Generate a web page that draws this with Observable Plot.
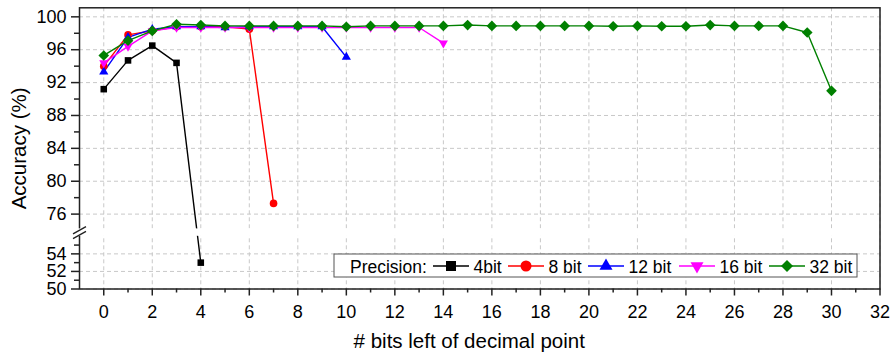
<!DOCTYPE html>
<html><head><meta charset="utf-8">
<script src="https://cdn.jsdelivr.net/npm/d3@7"></script>
<script src="https://cdn.jsdelivr.net/npm/@observablehq/plot@0.6"></script>
<style>html,body{margin:0;padding:0;background:#fff;} #chart{width:894px;height:354px;}</style>
</head><body><div id="chart"></div>
<script>
// ---- data ----
const seriesNames = ["4bit", "8 bit", "12 bit", "16 bit", "32 bit"];
const bits4  = [91.2, 94.7, 96.5, 94.4, 53.0];
const bits8  = [94.0, 97.8, 98.3, 98.8, 98.8, 98.8, 98.5, 77.3];
const bits12 = [93.3, 97.5, 98.5, 98.8, 98.8, 98.7, 98.8, 98.8, 98.8, 98.8, 95.1];
const bits16 = [94.4, 96.4, 98.3, 98.7, 98.7, 98.7, 98.7, 98.7, 98.7, 98.7, 98.7, 98.7, 98.7, 98.7, 96.8];
const bits32 = [95.3, 97.1, 98.3, 99.1, 99.0, 98.9, 98.9, 98.9, 98.9, 98.9, 98.8, 98.9, 98.9, 98.9, 98.9, 99.0,
                98.9, 98.9, 98.9, 98.9, 98.9, 98.85, 98.9, 98.85, 98.85, 99.0, 98.9, 98.9, 98.9, 98.1, 91.0];
const xMajorTicks = [0, 2, 4, 6, 8, 10, 12, 14, 16, 18, 20, 22, 24, 26, 28, 30, 32];
const xMinorTicks = [1, 3, 5, 7, 9, 11, 13, 15, 17, 19, 21, 23, 25, 27, 29, 31];
const yMajorTicks = [50, 52, 54, 76, 80, 84, 88, 92, 96, 100];
const yMinorTicks = [51, 53, 55, 78, 82, 86, 90, 94, 98];
const yBreak = [56, 74.2];   // axis break: lower segment top, upper segment bottom
const xTitle = "# bits left of decimal point";
const yTitle = "Accuracy (%)";
const legendTitle = "Precision:";

// ---- styles ----
const values = [bits4, bits8, bits12, bits16, bits32];
const colors = ["#000000", "#ff0000", "#0000ff", "#ff00ff", "#008000"];
const symbols = ["square", "circle", "triangle", "triangle", "diamond2"];
const rotates = [0, 0, 0, 180, 0];
const radii = [3.7, 3.8, 3.4, 3.4, 4.8];
const FONT = "'Liberation Sans', Arial, Helvetica, sans-serif";

const data = values.flatMap((vals, s) => vals.map((v, i) => ({series: seriesNames[s], s, x: i, y: v})));

const breakSymbol = {
  draw(ctx, size) {
    const r = Math.sqrt(size / Math.PI);
    const h = r * 0.55, g = 2.4;
    ctx.moveTo(-r, h - g); ctx.lineTo(r, -h - g);
    ctx.moveTo(-r, h + g); ctx.lineTo(r, -h + g);
  }
};

const gridStyle = {stroke: "#c8c8c8", strokeOpacity: 1, strokeWidth: 1, strokeDasharray: "4,3"};

const marks = [
  Plot.gridX({ticks: xMajorTicks, ...gridStyle}),
  Plot.gridY({ticks: yMajorTicks, ...gridStyle}),
  Plot.frame({stroke: "#222", strokeWidth: 1.5})
];
seriesNames.forEach((name, s) => {
  const d = data.filter(p => p.s === s);
  marks.push(Plot.line(d, {x: "x", y: "y", stroke: colors[s], strokeWidth: 1.4}));
});
marks.push(Plot.rect([yBreak], {x1: -1, x2: 32, y1: d => d[0], y2: d => d[1], fill: "white", insetLeft: -3, insetRight: 1.2}));
seriesNames.forEach((name, s) => {
  const d = data.filter(p => p.s === s);
  marks.push(Plot.dot(d, {x: "x", y: "y", fill: colors[s], stroke: "none", symbol: symbols[s], r: radii[s], rotate: rotates[s]}));
});
marks.push(Plot.dot([yBreak], {x: -1, y: d => (d[0] + d[1]) / 2, symbol: breakSymbol, r: 6.5, stroke: "#222", strokeWidth: 1.4, fill: "none"}));
marks.push(
  Plot.axisX({ticks: xMajorTicks, tickSize: 7, tickPadding: 9.5, label: null, fontSize: 18, tickFormat: d => String(d), stroke: "#222", strokeWidth: 1.5}),
  Plot.axisX({ticks: xMinorTicks, tickSize: 4, text: null, label: null, stroke: "#222", strokeWidth: 1.5}),
  Plot.axisY({ticks: yMajorTicks, tickSize: 8, tickPadding: 5, label: null, fontSize: 18, tickFormat: d => String(d), stroke: "#222", strokeWidth: 1.5}),
  Plot.axisY({ticks: yMinorTicks, tickSize: 5, text: null, label: null, stroke: "#222", strokeWidth: 1.5}),
  Plot.text([xTitle], {frameAnchor: "bottom", lineAnchor: "middle", textAnchor: "middle", dy: 52.5, dx: -10.5, fontSize: 20.5, fill: "#000"}),
  Plot.text([yTitle], {frameAnchor: "left", lineAnchor: "middle", textAnchor: "middle", dx: -60, rotate: -90, fontSize: 20.5, fill: "#000"})
);

const svg = Plot.plot({
  width: 894, height: 354,
  marginLeft: 79, marginRight: 14.5, marginTop: 7.3, marginBottom: 65.5,
  style: {fontFamily: FONT, background: "#fff", color: "#000", overflow: "visible"},
  x: {domain: [-1, 32]},
  y: {type: "linear", domain: [50, yBreak[0], yBreak[1], 101.1], range: [288.5, 235.8, 228.4, 7.3]},
  marks
});

// ---- legend (inside the plot area, bottom right) ----
const lg = d3.select(svg).append("g").attr("font-family", FONT).attr("font-size", 17.5).attr("text-anchor", "start");
lg.append("rect").attr("x", 334).attr("y", 254).attr("width", 523).attr("height", 23)
  .attr("fill", "#fff").attr("stroke", "#555").attr("stroke-width", 1);
lg.append("text").attr("x", 350).attr("y", 272.5).attr("text-anchor", "start").text(legendTitle);
const centers = [451, 526, 606, 697, 787];
const legendSizes = [100, 95, 73, 73, 92];
const d3sym = {square: d3.symbolSquare, circle: d3.symbolCircle, triangle: d3.symbolTriangle, diamond2: d3.symbolDiamond2};
seriesNames.forEach((name, s) => {
  const cx = centers[s], cy = 266;
  lg.append("line").attr("x1", cx - 18).attr("x2", cx + 18).attr("y1", cy).attr("y2", cy)
    .attr("stroke", colors[s]).attr("stroke-width", 1.4);
  lg.append("path").attr("d", d3.symbol(d3sym[symbols[s]], legendSizes[s])())
    .attr("transform", `translate(${cx},${cy}) rotate(${rotates[s]})`).attr("fill", colors[s]);
  lg.append("text").attr("x", cx + 22.5).attr("y", 272.5).attr("text-anchor", "start").text(name);
});

document.getElementById("chart").appendChild(svg);
</script></body></html>
